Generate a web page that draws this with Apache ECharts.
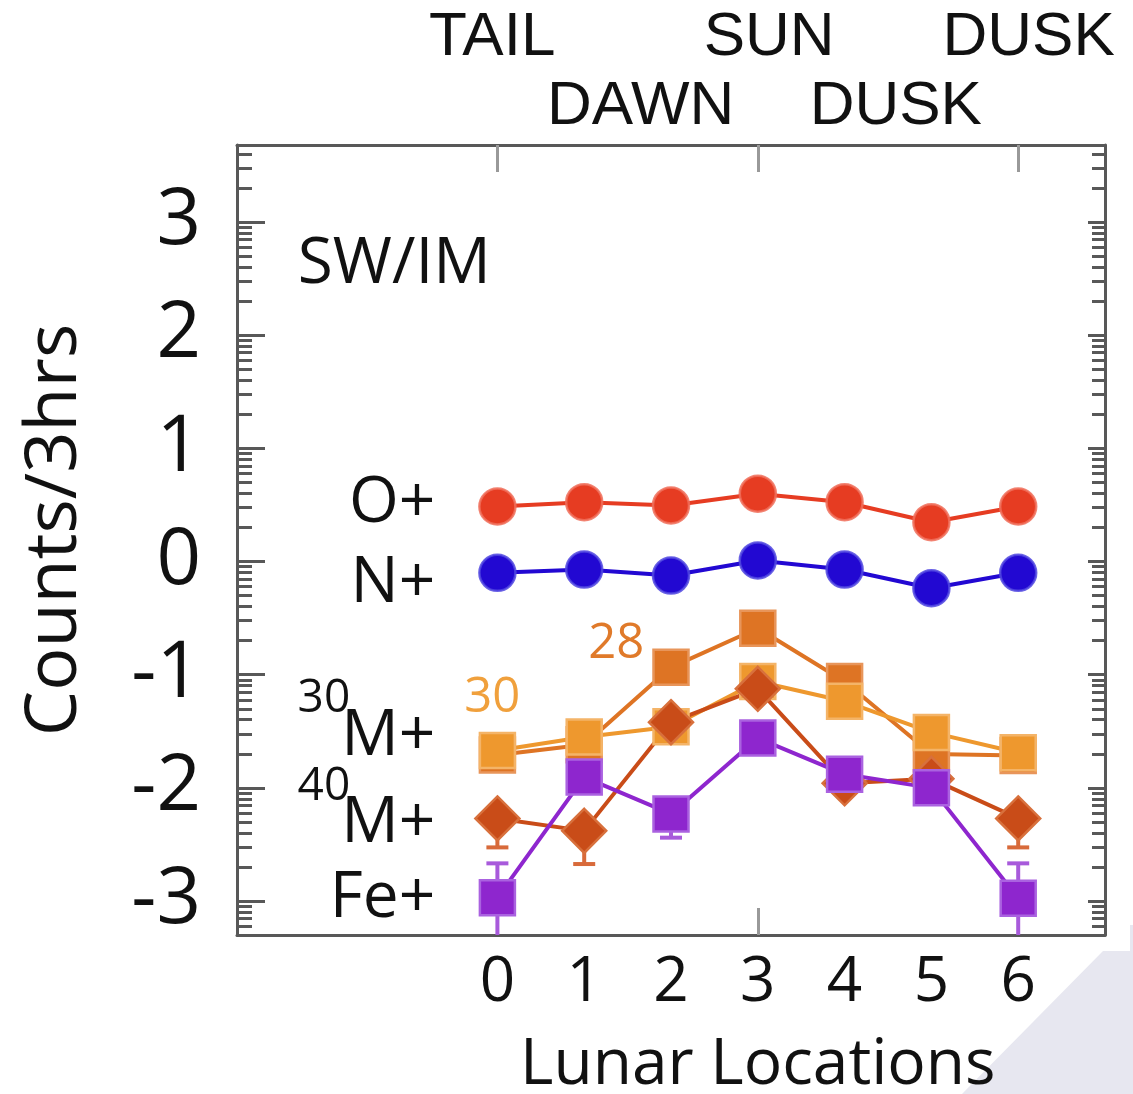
<!DOCTYPE html>
<html>
<head>
<meta charset="utf-8">
<script src="https://cdn.jsdelivr.net/npm/echarts@6/dist/echarts.min.js"></script>
<style>
  html, body { margin: 0; padding: 0; background: #ffffff; }
  #chart { width: 1133px; height: 1094px; }
</style>
</head>
<body>
<div id="chart"></div>
<script>
// Lunar location index (0 = tail ... 3 = sun ... 6 = dusk)
const locations = [0, 1, 2, 3, 4, 5, 6];

// log10 counts per 3 hours for each ion species
const oPlus   = [0.486, 0.524, 0.495, 0.599, 0.524, 0.347, 0.486];
const nPlus   = [-0.10, -0.071, -0.124, 0.009, -0.071, -0.236, -0.10];
const m28     = [-1.71, -1.62, -0.935, -0.59, -1.06, -1.70, -1.715];
const m30     = [-1.67, -1.55, -1.46, -1.06, -1.235, -1.51, -1.69];
const m40     = [-2.27, -2.38, -1.42, -1.125, -1.96, -1.92, -2.27];
const fePlus  = [-2.97, -1.905, -2.23, -1.56, -1.88, -2.0, -2.975];

// error bars: [location, value, end of bar, draw cap]
const m40Err = [[0, -2.27, -2.526, 1], [1, -2.38, -2.673, 1], [6, -2.27, -2.526, 1]];
const feErr  = [[0, -2.97, -2.667, 1], [0, -2.97, -3.3, 0], [2, -2.23, -2.44, 1],
                [6, -2.975, -2.667, 1], [6, -2.975, -3.3, 0]];

// axis ticks and labels
const xTickLabels = [0, 1, 2, 3, 4, 5, 6];
const xTickMarks = [0, 3, 6];
const yMajor = [-3, -2, -1, 0, 1, 2, 3];
const yMin = -3.3, yMax = 3.68;
const decades = [-4, -3, -2, -1, 0, 1, 2, 3];
const yMinor = [];
decades.forEach(function (d) {
  for (let k = 2; k <= 9; k++) {
    const v = d + Math.log10(k);
    if (v > yMin && v < yMax) yMinor.push(+v.toFixed(4));
  }
});

// text annotations
const topRow1 = [['TAIL', -0.06], ['SUN', 3.13], ['DUSK', 6.12]];
const topRow2 = [['DAWN', 1.65], ['DUSK', 4.59]];
const speciesLabels = [['O+', 0.51], ['N+', -0.20], ['M+', -1.55], ['M+', -2.32], ['Fe+', -2.98]];
const speciesLabelX = -0.715;
const massSups = [['30', -1.21], ['40', -1.995]];
const massSupX = -1.696;
const massTags = [['28', 1.37, -0.73, '#E07A2A'], ['30', -0.06, -1.21, '#F0A03C']];

const FONT = '"Open Sans", sans-serif';
const AX = '#585858';

const chart = echarts.init(document.getElementById('chart'), null, { renderer: 'canvas' });

function pairs(vals) { return locations.map(function (x, i) { return [x, vals[i]]; }); }

function errSeries(data, color) {
  return {
    type: 'custom',
    data: data,
    clip: true,
    encode: { x: 0, y: 1 },
    renderItem: function (params, api) {
      const x = api.value(0), c = api.value(1), e = api.value(2), cap = api.value(3);
      const p0 = api.coord([x, c]);
      const p1 = api.coord([x, e]);
      const kids = [{
        type: 'line',
        shape: { x1: p0[0], y1: p0[1], x2: p1[0], y2: p1[1] },
        style: { stroke: color, lineWidth: 4 }
      }];
      if (cap) {
        kids.push({
          type: 'line',
          shape: { x1: p1[0] - 11, y1: p1[1], x2: p1[0] + 11, y2: p1[1] },
          style: { stroke: color, lineWidth: 4 }
        });
      }
      return { type: 'group', children: kids };
    }
  };
}

function lineSeries(name, vals, symbol, size, color, border) {
  return {
    name: name,
    type: 'line',
    data: pairs(vals),
    symbol: symbol,
    symbolSize: size,
    showSymbol: true,
    lineStyle: { color: color, width: 4 },
    itemStyle: { color: color, borderColor: border, borderWidth: 2.5, opacity: 1 },
    emphasis: { disabled: true },
    animation: false
  };
}

function yAxisDef(pos, ticks, len, showLine, showLabel) {
  return {
    type: 'value', position: pos, min: yMin, max: yMax,
    axisLine: { show: showLine, onZero: false, lineStyle: { color: AX, width: 3 } },
    axisTick: { show: true, inside: true, length: len, customValues: ticks,
                lineStyle: { color: AX, width: 3 } },
    axisLabel: showLabel ? {
      show: true, customValues: yMajor, fontFamily: FONT, fontSize: 78,
      color: '#111', margin: 36
    } : { show: false },
    splitLine: { show: false }
  };
}

function xAxisDef(pos, showLabel) {
  return {
    type: 'value', position: pos, min: -3, max: 7,
    axisLine: { show: true, onZero: false, lineStyle: { color: AX, width: 3 } },
    axisTick: { show: true, inside: true, length: 27, customValues: xTickMarks,
                lineStyle: { color: '#999', width: 3 } },
    axisLabel: showLabel ? {
      show: true, customValues: xTickLabels, fontFamily: FONT, fontSize: 62,
      color: '#111', margin: 17
    } : { show: false },
    splitLine: { show: false }
  };
}

chart.setOption({
  backgroundColor: '#ffffff',
  animation: false,
  grid: { left: 237, right: 28, top: 145, bottom: 159, containLabel: false },
  xAxis: [xAxisDef('bottom', true), xAxisDef('top', false)],
  yAxis: [
    yAxisDef('left', yMajor, 28, true, true),
    yAxisDef('left', yMinor, 15, false, false),
    yAxisDef('right', yMajor, 17, true, false),
    yAxisDef('right', yMinor, 13, false, false)
  ],
  series: [
    lineSeries('O+', oPlus, 'circle', 36, '#E63C22', 'rgba(240,110,90,0.85)'),
    lineSeries('N+', nPlus, 'circle', 36, '#2208D2', 'rgba(80,70,225,0.85)'),
    lineSeries('28M+', m28, 'rect', 35, '#DE7424', '#E8955A'),
    lineSeries('30M+', m30, 'rect', 35, '#EE982E', '#F4B468'),
    errSeries(m40Err, '#D86A3A'),
    lineSeries('40M+', m40, 'diamond', 44, '#C94C18', '#D8703C'),
    errSeries(feErr, '#A85ADB'),
    lineSeries('Fe+', fePlus, 'rect', 35, '#8E26CE', '#AA62E0')
  ]
});

// annotations placed through the chart's coordinate system
function px(x, y) { return chart.convertToPixel({ gridIndex: 0 }, [x, y]); }

const g = [];
g.push({
  type: 'polygon', z: -10, silent: true,
  shape: { points: [[1130, 925], [1133, 925], [1133, 1094], [962, 1094], [1103, 951], [1130, 951]] },
  style: { fill: '#E7E7F0' }
});
topRow1.forEach(function (t) {
  g.push({ type: 'text', x: px(t[1], 0)[0], y: 38,
    style: { text: t[0], font: '62px "Liberation Sans", Arial, sans-serif', fill: '#111', align: 'center', verticalAlign: 'middle' } });
});
topRow2.forEach(function (t) {
  g.push({ type: 'text', x: px(t[1], 0)[0], y: 107,
    style: { text: t[0], font: '62px "Liberation Sans", Arial, sans-serif', fill: '#111', align: 'center', verticalAlign: 'middle' } });
});
speciesLabels.forEach(function (t) {
  const p = px(speciesLabelX, t[1]);
  g.push({ type: 'text', x: p[0], y: p[1],
    style: { text: t[0], font: '64px ' + FONT, fill: '#111', align: 'right', verticalAlign: 'middle' } });
});
massSups.forEach(function (t) {
  const p = px(massSupX, t[1]);
  g.push({ type: 'text', x: p[0], y: p[1],
    style: { text: t[0], font: '46px ' + FONT, fill: '#111', align: 'right', verticalAlign: 'middle' } });
});
massTags.forEach(function (t) {
  const p = px(t[1], t[2]);
  g.push({ type: 'text', x: p[0], y: p[1],
    style: { text: t[0], font: '49px ' + FONT, fill: t[3], align: 'center', verticalAlign: 'middle' } });
});
const swp = px(-2.30, 2.62);
g.push({ type: 'text', x: swp[0], y: swp[1],
  style: { text: 'SW/IM', font: '64px ' + FONT, fill: '#111', align: 'left', verticalAlign: 'middle' } });
g.push({ type: 'text', x: px(3, 0)[0], y: 1066,
  style: { text: 'Lunar Locations', font: '64px ' + FONT, fill: '#111', align: 'center', verticalAlign: 'middle' } });
g.push({ type: 'text', x: 55, y: 530, rotation: Math.PI / 2,
  style: { text: 'Counts/3hrs', font: '72px ' + FONT, fill: '#111', align: 'center', verticalAlign: 'middle' } });

chart.setOption({ graphic: g });
</script>
</body>
</html>
